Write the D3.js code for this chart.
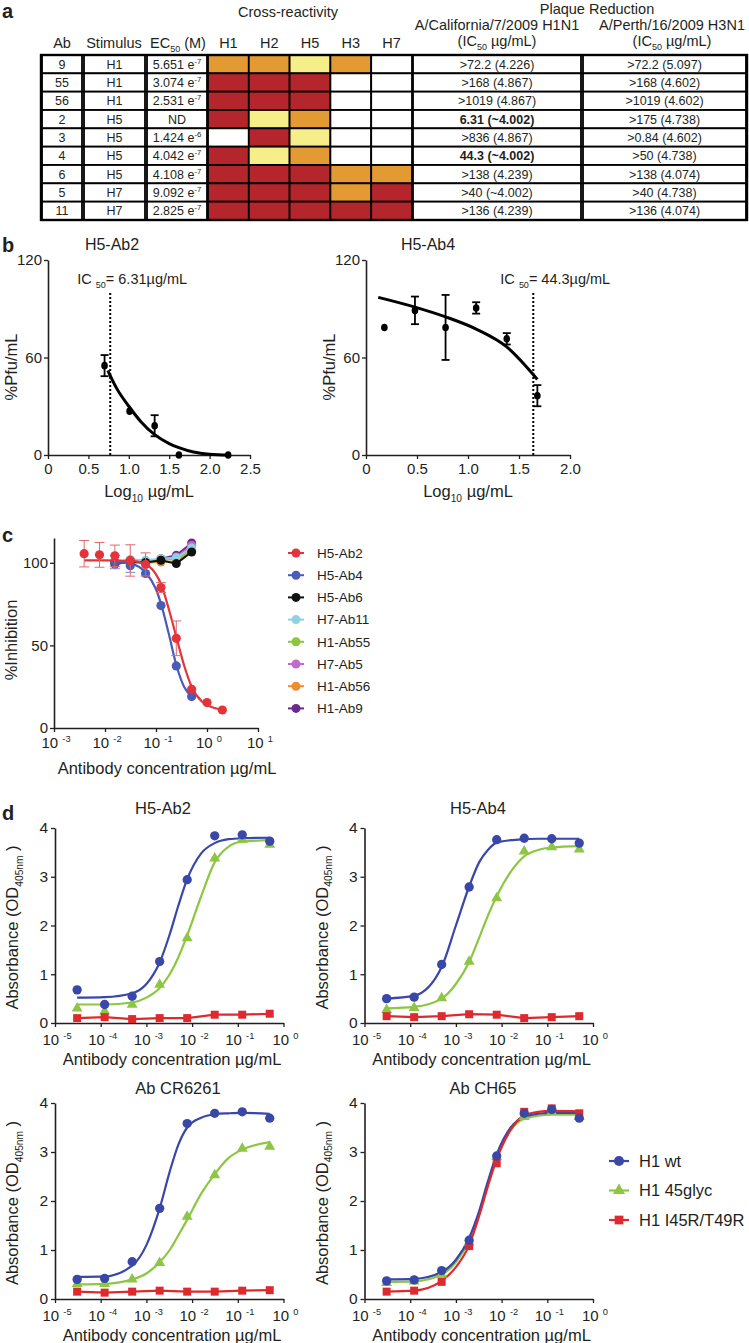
<!DOCTYPE html>
<html lang="en">
<head>
<meta charset="utf-8">
<title>Cross-reactivity and neutralization</title>
<script src="https://cdn.jsdelivr.net/npm/d3@7/dist/d3.min.js"></script>
<style>
  body { margin: 0; background: #fff; }
  svg text { font-family: "Liberation Sans", Arial, Helvetica, sans-serif; fill: #231f20; }
</style>
</head>
<body></body>
<script type="text/javascript">

//****************************************************************************//
// Data - panel a (table)

var abIds      = ["9", "55", "56", "2", "3", "4", "6", "5", "11"];
var stimulus   = ["H1", "H1", "H1", "H5", "H5", "H5", "H5", "H7", "H7"];
var ec50Value  = ["5.651", "3.074", "2.531", "ND", "1.424", "4.042", "4.108", "9.092", "2.825"];
var ec50Exp    = ["-7", "-7", "-7", "", "-6", "-7", "-7", "-7", "-7"];
var subtypes   = ["H1", "H2", "H5", "H3", "H7"];
// 0 none, 1 yellow, 2 orange, 3 red
var crossLevel = [
  [2, 2, 1, 2, 0],
  [3, 3, 3, 0, 0],
  [3, 3, 3, 0, 0],
  [3, 1, 2, 0, 0],
  [0, 3, 1, 0, 0],
  [3, 1, 2, 0, 0],
  [3, 3, 3, 2, 2],
  [3, 3, 3, 2, 3],
  [3, 3, 3, 3, 3]
];
var levelColors = ["#ffffff", "#f6ee88", "#e49a33", "#b5252c"];
var californiaIC50 = [">72.2 (4.226)", ">168 (4.867)", ">1019 (4.867)", "6.31 (~4.002)", ">836 (4.867)",
                      "44.3 (~4.002)", ">138 (4.239)", ">40 (~4.002)", ">136 (4.239)"];
var californiaBold = [false, false, false, true, false, true, false, false, false];
var perthIC50 = [">72.2 (5.097)", ">168 (4.602)", ">1019 (4.602)", ">175 (4.738)", ">0.84 (4.602)",
                 ">50 (4.738)", ">138 (4.074)", ">40 (4.738)", ">136 (4.074)"];

//****************************************************************************//
// Data - panel b (plaque reduction)

var bTicksLeft  = [0, 0.5, 1.0, 1.5, 2.0, 2.5];
var bTicksRight = [0, 0.5, 1.0, 1.5, 2.0];
var bTicksY     = [0, 60, 120];

var ab2Log    = [0.70, 1.01, 1.32, 1.62, 2.23];
var ab2Pfu    = [55, 27, 18, 0, 0];
var ab2Err    = [6.5, 0, 6.5, 0, 0];
var ab2FitLog = [0.74, 0.85, 1.0, 1.15, 1.32, 1.5, 1.62, 1.8, 2.0, 2.25];
var ab2FitPfu = [52, 41, 30, 20.5, 12.5, 7, 4.5, 1.8, 0.5, 0];
var ab2IC50Log = 0.77;

var ab4Log    = [0.18, 0.48, 0.78, 1.08, 1.38, 1.68];
var ab4Pfu    = [78.5, 89, 78.5, 90.5, 71.5, 36.5];
var ab4Err    = [0, 8.5, 20, 3.5, 3.5, 6.5];
var ab4FitLog = [0.12, 0.48, 0.78, 1.08, 1.38, 1.68];
var ab4FitPfu = [97, 91, 85, 77.5, 66.5, 46.5];
var ab4IC50Log = 1.64;

//****************************************************************************//
// Data - panel c (% inhibition)

var cTickExp = [-3, -2, -1, 0, 1];
var cTicksY  = [0, 50, 100];

var cNames  = ["H5-Ab2", "H5-Ab4", "H5-Ab6", "H7-Ab11", "H1-Ab55", "H7-Ab5", "H1-Ab56", "H1-Ab9"];
var cColors = ["#e2343a", "#4a5cb8", "#111111", "#8fd0e3", "#8cc641", "#c36ac8", "#f08c2e", "#6c2a8c"];

var ab2Conc = [0.0039, 0.0078, 0.0156, 0.03125, 0.0625, 0.125, 0.25, 0.5, 1, 2];
var ab2Inh  = [105.5, 104.8, 104.2, 101.4, 99, 85, 54.3, 23.4, 15.4, 10.9];
var ab2InhErr = [8, 7.5, 6.5, 9.5, 7, 3, 10.5, 0, 0, 0];
var ab2FitConc = [0.0039, 0.01, 0.0316, 0.063, 0.1, 0.126, 0.178, 0.251, 0.355, 0.5, 0.794, 1.26, 2];
var ab2FitInh  = [101.5, 101.5, 101.2, 99, 93, 87, 72, 55, 38, 25, 16, 12.5, 11];

var flatConc = [0.0156, 0.03125, 0.0625, 0.125, 0.25, 0.5];
var ab4Inh   = [100.4, 98.2, 93.5, 74.1, 37.6, 19];
var ab4InhErr = [4, 4, 0, 0, 0, 0];
var ab4FitConc = [0.0156, 0.0316, 0.063, 0.1, 0.126, 0.178, 0.251, 0.355, 0.5];
var ab4FitInh  = [100.5, 99.5, 94, 84, 75, 57, 38, 25, 19];

var ab6Inh  = [100, 100.5, 100.2, 101.5, 99.5, 106.5];
var ab11Inh = [100, 102, 101.5, 102.5, 103, 109];
var ab55Inh = [100, 101.5, 101, 102, 102.5, 108];
var ab5Inh  = [99.5, 101, 100.5, 102, 103.5, 110.5];
var ab56Inh = [100, 100.5, 100, 100.5, 101, 107];
var ab9Inh  = [99, 101, 100.5, 102.5, 104.5, 112];

//****************************************************************************//
// Data - panel d (ELISA)

var dTickExp = [-5, -4, -3, -2, -1, 0];
var dTicksY  = [0, 1, 2, 3, 4];
var dNames   = ["H1 wt", "H1 45glyc", "H1 I45R/T49R"];
var dColors  = ["#3847a8", "#8dc642", "#dd2a2e"];

var dConc    = [3.05e-5, 1.22e-4, 4.88e-4, 1.95e-3, 7.81e-3, 3.125e-2, 0.125, 0.5];
var dFitConc = [3.05e-5, 1.22e-4, 4.88e-4, 1e-3, 1.95e-3, 3.24e-3, 5.01e-3, 7.81e-3, 1.58e-2, 3.125e-2, 6.31e-2, 0.125, 0.5];

var h5ab2Wt      = [0.68, 0.38, 0.55, 1.26, 2.94, 3.84, 3.86, 3.73];
var h5ab2Glyc    = [0.30, 0.24, 0.38, 0.79, 1.74, 3.38, 3.76, 3.66];
var h5ab2Mut     = [0.10, 0.12, 0.08, 0.10, 0.10, 0.17, 0.17, 0.19];
var h5ab2WtFit   = [0.52, 0.53, 0.61, 0.80, 1.24, 1.82, 2.41, 2.95, 3.48, 3.69, 3.77, 3.79, 3.80];
var h5ab2GlycFit = [0.38, 0.38, 0.42, 0.52, 0.72, 1.0, 1.35, 1.8, 2.6, 3.3, 3.62, 3.72, 3.75];

var h5ab4Wt      = [0.50, 0.53, 1.20, 2.79, 3.76, 3.79, 3.78, 3.69];
var h5ab4Glyc    = [0.27, 0.31, 0.51, 1.26, 2.56, 3.52, 3.61, 3.56];
var h5ab4Mut     = [0.14, 0.12, 0.14, 0.18, 0.17, 0.10, 0.12, 0.14];
var h5ab4WtFit   = [0.50, 0.56, 1.15, 2.0, 2.8, 3.3, 3.55, 3.7, 3.75, 3.77, 3.78, 3.78, 3.78];
var h5ab4GlycFit = [0.30, 0.33, 0.50, 0.80, 1.25, 1.75, 2.2, 2.6, 3.1, 3.42, 3.55, 3.6, 3.63];

var cr6261Wt      = [0.40, 0.42, 0.76, 1.85, 3.58, 3.79, 3.82, 3.69];
var cr6261Glyc    = [0.31, 0.31, 0.40, 0.74, 1.68, 2.53, 3.07, 3.11];
var cr6261Mut     = [0.15, 0.13, 0.15, 0.17, 0.15, 0.15, 0.17, 0.18];
var cr6261WtFit   = [0.45, 0.46, 0.68, 1.1, 1.85, 2.6, 3.15, 3.5, 3.7, 3.77, 3.79, 3.8, 3.78];
var cr6261GlycFit = [0.30, 0.31, 0.40, 0.52, 0.75, 1.0, 1.3, 1.62, 2.15, 2.55, 2.88, 3.05, 3.2];

var ch65Wt      = [0.37, 0.39, 0.58, 1.20, 2.92, 3.79, 3.87, 3.69];
var ch65Glyc    = [0.33, 0.36, 0.50, 1.15, 2.90, 3.72, 3.82, 3.72];
var ch65Mut     = [0.15, 0.17, 0.35, 1.08, 2.77, 3.82, 3.89, 3.79];
var ch65WtFit   = [0.40, 0.41, 0.55, 0.80, 1.25, 1.8, 2.4, 2.95, 3.5, 3.72, 3.78, 3.8, 3.8];
var ch65GlycFit = [0.35, 0.36, 0.50, 0.75, 1.2, 1.75, 2.35, 2.9, 3.45, 3.68, 3.74, 3.76, 3.76];
var ch65MutFit  = [0.15, 0.17, 0.37, 0.65, 1.1, 1.7, 2.3, 2.85, 3.45, 3.75, 3.82, 3.84, 3.83];

//****************************************************************************//
// Canvas

var width = 749,
    height = 1343;
var ink = "#231f20";

var canvas = d3.select("body")
            .append("svg")
            .attr("width", width)
            .attr("height", height);

canvas.append("rect")
        .attr("width", width)
        .attr("height", height)
        .attr("fill", "white");

// text with sub / superscript pieces: parts = [[string, "sub"|"sup"|null], ...]
function richText(g, x, y, parts, size, anchor, weight) {
    var t = g.append("text")
            .attr("x", x)
            .attr("y", y)
            .attr("font-size", size)
            .attr("font-weight", weight || "normal")
            .attr("text-anchor", anchor || "start");
    var shift = 0;
    parts.forEach(function(p) {
        var target = p[1] === "sub" ? size * 0.3 : (p[1] === "sup" ? -size * 0.4 : 0);
        t.append("tspan")
            .attr("dy", target - shift)
            .attr("font-size", p[1] ? size * 0.62 : size)
            .text(p[0]);
        shift = target;
    });
    return t;
}

function panelLetter(letter, x, y) {
    canvas.append("text")
        .attr("x", x)
        .attr("y", y)
        .attr("font-size", 20)
        .attr("font-weight", "bold")
        .attr("fill", "#000")
        .text(letter);
}

function styleAxis(g, size) {
    g.attr("font-family", null).attr("font-size", null);
    g.select(".domain").attr("stroke", ink).attr("stroke-width", 1.6);
    g.selectAll(".tick line").attr("stroke", ink).attr("stroke-width", 1.3);
    g.selectAll(".tick text").attr("font-size", size).style("fill", ink);
}

function yLabel(x, y, parts, size) {
    var g = canvas.append("g").attr("transform", "translate(" + x + "," + y + ") rotate(-90)");
    richText(g, 0, 0, parts, size, "middle");
}

function logTickLabels(g, scale, exps, y, size) {
    exps.forEach(function(e) {
        richText(g, scale(Math.pow(10, e)) + 2, y, [["10 "], [String(e), "sup"]], size, "middle");
    });
}

//****************************************************************************//
// Panel a - table

panelLetter("a", 2, 18);

var tableTop = 55, tableBottom = 220;
var rowY  = d3.scaleBand().domain(abIds).range([tableTop, tableBottom]);
var heatX = d3.scaleBand().domain(subtypes).range([208, 412]);
var rowH  = rowY.bandwidth();

var tableG = canvas.append("g");

var textCols = [
    { x0: 41,  x1: 83,  values: abIds },
    { x0: 83,  x1: 146, values: stimulus },
    { x0: 146, x1: 208, values: ec50Value, exp: ec50Exp },
    { x0: 412, x1: 582, values: californiaIC50, bold: californiaBold },
    { x0: 582, x1: 747, values: perthIC50 }
];

textCols.forEach(function(col) {
    col.values.forEach(function(v, i) {
        var y = rowY(abIds[i]);
        tableG.append("rect")
            .attr("x", col.x0 + 1)
            .attr("y", y)
            .attr("width", col.x1 - col.x0 - 2)
            .attr("height", rowH)
            .attr("fill", "white")
            .attr("stroke", "#000")
            .attr("stroke-width", 1.8);
        var cx = (col.x0 + col.x1) / 2, ty = y + rowH / 2 + 4.5;
        if (col.exp && col.exp[i] !== "") {
            richText(tableG, cx, ty, [[v + " e"], [col.exp[i], "sup"]], 12.5, "middle");
        } else {
            tableG.append("text")
                .attr("x", cx)
                .attr("y", ty)
                .attr("font-size", 12.5)
                .attr("font-weight", col.bold && col.bold[i] ? "bold" : "normal")
                .attr("text-anchor", "middle")
                .text(v);
        }
    });
});

crossLevel.forEach(function(row, i) {
    row.forEach(function(level, j) {
        tableG.append("rect")
            .attr("x", heatX(subtypes[j]))
            .attr("y", rowY(abIds[i]))
            .attr("width", heatX.bandwidth())
            .attr("height", rowH)
            .attr("fill", levelColors[level])
            .attr("stroke", "#000")
            .attr("stroke-width", 1.8);
    });
});

tableG.append("rect")
    .attr("x", 41).attr("y", tableTop)
    .attr("width", 706).attr("height", tableBottom - tableTop)
    .attr("fill", "none").attr("stroke", "#000").attr("stroke-width", 2.4);

// headers
var hdrY = 48;
tableG.append("text").attr("x", 62).attr("y", hdrY).attr("font-size", 14.5).attr("text-anchor", "middle").text("Ab");
tableG.append("text").attr("x", 114).attr("y", hdrY).attr("font-size", 14.5).attr("text-anchor", "middle").text("Stimulus");
richText(tableG, 178, hdrY, [["EC"], ["50", "sub"], [" (M)"]], 14.5, "middle");
subtypes.forEach(function(s) {
    tableG.append("text")
        .attr("x", heatX(s) + heatX.bandwidth() / 2)
        .attr("y", hdrY)
        .attr("font-size", 14.5)
        .attr("text-anchor", "middle")
        .text(s);
});
tableG.append("text").attr("x", 288).attr("y", 17).attr("font-size", 14.5).attr("text-anchor", "middle").text("Cross-reactivity");
tableG.append("text").attr("x", 597).attr("y", 14).attr("font-size", 14.5).attr("text-anchor", "middle").text("Plaque Reduction");
tableG.append("text").attr("x", 497).attr("y", 30).attr("font-size", 14.5).attr("text-anchor", "middle").text("A/California/7/2009 H1N1");
tableG.append("text").attr("x", 672).attr("y", 30).attr("font-size", 14.5).attr("text-anchor", "middle").text("A/Perth/16/2009 H3N1");
richText(tableG, 497, 46, [["(IC"], ["50", "sub"], [" \u00b5g/mL)"]], 14.5, "middle");
richText(tableG, 672, 46, [["(IC"], ["50", "sub"], [" \u00b5g/mL)"]], 14.5, "middle");

//****************************************************************************//
// Panel b - plaque reduction curves

panelLetter("b", 2, 252);

var bY = d3.scaleLinear().domain([0, 120]).range([455, 260]);

function pfuPanel(x, ticks, logs, pfu, err, fitLog, fitPfu, ic50, ic50Text, title, titleX, labelX) {
    var g = canvas.append("g");
    var x0 = x.range()[0];

    g.append("g")
        .attr("transform", "translate(0," + bY(0) + ")")
        .call(d3.axisBottom(x).tickValues(ticks).tickSize(4).tickSizeOuter(0).tickPadding(4)
                .tickFormat(function(d) { return d === 0 ? "0" : d3.format(".1f")(d); }))
        .call(styleAxis, 15);

    g.append("g")
        .attr("transform", "translate(" + x0 + ",0)")
        .call(d3.axisLeft(bY).tickValues(bTicksY).tickSize(4).tickSizeOuter(0).tickPadding(2))
        .call(styleAxis, 15);

    // dotted IC50 marker
    g.append("line")
        .attr("x1", x(ic50)).attr("x2", x(ic50))
        .attr("y1", bY(0)).attr("y2", bY(100))
        .attr("stroke", "#000").attr("stroke-width", 2).attr("stroke-dasharray", "2,2");

    var line = d3.line()
        .x(function(d) { return x(d[0]); })
        .y(function(d) { return bY(d[1]); })
        .curve(d3.curveMonotoneX);
    g.append("path")
        .datum(d3.zip(fitLog, fitPfu))
        .attr("d", line)
        .attr("fill", "none")
        .attr("stroke", "#000")
        .attr("stroke-width", 3);

    logs.forEach(function(l, i) {
        if (err[i] > 0) {
            var top = bY(pfu[i] + err[i]), bot = bY(pfu[i] - err[i]);
            g.append("line").attr("x1", x(l)).attr("x2", x(l)).attr("y1", top).attr("y2", bot)
                .attr("stroke", "#000").attr("stroke-width", 1.8);
            [top, bot].forEach(function(yy) {
                g.append("line").attr("x1", x(l) - 4).attr("x2", x(l) + 4).attr("y1", yy).attr("y2", yy)
                    .attr("stroke", "#000").attr("stroke-width", 1.8);
            });
        }
        g.append("ellipse")
            .attr("cx", x(l)).attr("cy", bY(pfu[i]))
            .attr("rx", 3.3).attr("ry", 3.8)
            .attr("fill", "#000");
    });

    richText(g, x(ic50) + 22, 284, [["IC "], ["50", "sub"], ["= " + ic50Text + "\u00b5g/mL"]], 14.5, "middle");
    g.append("text").attr("x", titleX).attr("y", 250).attr("font-size", 16).attr("text-anchor", "middle").text(title);
    richText(g, (x.range()[0] + x.range()[1]) / 2, 497, [["Log"], ["10", "sub"], [" \u00b5g/mL"]], 16.5, "middle");
    yLabel(labelX, 367, [["%Pfu/mL"]], 16.5);
}

var bXLeft  = d3.scaleLinear().domain([0, 2.5]).range([48, 250]);
var bXRight = d3.scaleLinear().domain([0, 2.0]).range([366, 570]);

pfuPanel(bXLeft, bTicksLeft, ab2Log, ab2Pfu, ab2Err, ab2FitLog, ab2FitPfu, ab2IC50Log, "6.31", "H5-Ab2", 112, 17);
pfuPanel(bXRight, bTicksRight, ab4Log, ab4Pfu, ab4Err, ab4FitLog, ab4FitPfu, ab4IC50Log, "44.3", "H5-Ab4", 428, 335);

//****************************************************************************//
// Panel c - % inhibition

panelLetter("c", 2, 542);

var cX = d3.scaleLog().domain([1e-3, 10]).range([54, 258]);
var cY = d3.scaleLinear().domain([0, 115]).range([728, 538]);
var cG = canvas.append("g");

cG.append("g")
    .attr("transform", "translate(0," + cY(0) + ")")
    .call(d3.axisBottom(cX).tickValues(cTickExp.map(function(e) { return Math.pow(10, e); }))
            .tickSize(4).tickSizeOuter(0).tickFormat(""))
    .call(styleAxis, 14);
logTickLabels(cG, cX, cTickExp, 748, 15);

cG.append("g")
    .attr("transform", "translate(" + cX(1e-3) + ",0)")
    .call(d3.axisLeft(cY).tickValues(cTicksY).tickSize(4).tickSizeOuter(0).tickPadding(2))
    .call(styleAxis, 15);

var cLine = d3.line()
    .x(function(d) { return cX(d[0]); })
    .y(function(d) { return cY(d[1]); });

// flat series (drawn back to front)
var flatSeries = [
    { vals: ab9Inh,  color: cColors[7] },
    { vals: ab56Inh, color: cColors[6] },
    { vals: ab5Inh,  color: cColors[5] },
    { vals: ab55Inh, color: cColors[4] },
    { vals: ab11Inh, color: cColors[3] },
    { vals: ab6Inh,  color: cColors[2] }
];
flatSeries.forEach(function(s) {
    cG.append("path")
        .datum(d3.zip(flatConc, s.vals))
        .attr("d", cLine)
        .attr("fill", "none").attr("stroke", s.color).attr("stroke-width", 2);
    flatConc.forEach(function(c, i) {
        cG.append("circle").attr("cx", cX(c)).attr("cy", cY(s.vals[i])).attr("r", 4.5).attr("fill", s.color);
    });
});

function inhibitionSeries(conc, vals, err, fitConc, fit, color, errColor) {
    cG.append("path")
        .datum(d3.zip(fitConc, fit))
        .attr("d", cLine.curve(d3.curveMonotoneX))
        .attr("fill", "none").attr("stroke", color).attr("stroke-width", 2.2);
    cLine.curve(d3.curveLinear);
    conc.forEach(function(c, i) {
        if (err[i] > 0) {
            var top = cY(vals[i] + err[i]), bot = cY(vals[i] - err[i]), xx = cX(c);
            cG.append("line").attr("x1", xx).attr("x2", xx).attr("y1", top).attr("y2", bot)
                .attr("stroke", errColor).attr("stroke-width", 1);
            [top, bot].forEach(function(yy) {
                cG.append("line").attr("x1", xx - 5).attr("x2", xx + 5).attr("y1", yy).attr("y2", yy)
                    .attr("stroke", errColor).attr("stroke-width", 1);
            });
        }
        cG.append("circle").attr("cx", cX(c)).attr("cy", cY(vals[i])).attr("r", 4.6).attr("fill", color);
    });
}

inhibitionSeries(flatConc, ab4Inh, ab4InhErr, ab4FitConc, ab4FitInh, cColors[1], "#7d8ad0");
inhibitionSeries(ab2Conc, ab2Inh, ab2InhErr, ab2FitConc, ab2FitInh, cColors[0], "#e2676b");

richText(cG, 167, 774, [["Antibody concentration \u00b5g/mL"]], 16.5, "middle");
yLabel(17, 640, [["%Inhibition"]], 16.5);

// legend
cNames.forEach(function(name, i) {
    var ly = 553 + i * 22.2;
    cG.append("line").attr("x1", 288).attr("x2", 304).attr("y1", ly).attr("y2", ly)
        .attr("stroke", cColors[i]).attr("stroke-width", 2);
    cG.append("circle").attr("cx", 296).attr("cy", ly).attr("r", 4.5).attr("fill", cColors[i]);
    cG.append("text").attr("x", 317).attr("y", ly + 4.7).attr("font-size", 13.5).text(name);
});

//****************************************************************************//
// Panel d - ELISA binding

panelLetter("d", 2, 820);

var dSymbols = [d3.symbolCircle, d3.symbolTriangle, d3.symbolSquare];
var dSymbolSize = [68, 52, 64];

function elisaPanel(x0, yBottom, yTop, title, titleX, titleY, series) {
    var x = d3.scaleLog().domain([1e-5, 1]).range([x0, x0 + 228.5]);
    var y = d3.scaleLinear().domain([0, 4]).range([yBottom, yTop]);
    var g = canvas.append("g");

    g.append("g")
        .attr("transform", "translate(0," + yBottom + ")")
        .call(d3.axisBottom(x).tickValues(dTickExp.map(function(e) { return Math.pow(10, e); }))
                .tickSize(4).tickSizeOuter(0).tickFormat(""))
        .call(styleAxis, 14);
    logTickLabels(g, x, dTickExp, yBottom + 22, 15);

    g.append("g")
        .attr("transform", "translate(" + x0 + ",0)")
        .call(d3.axisLeft(y).tickValues(dTicksY).tickSize(4).tickSizeOuter(0).tickPadding(3)
                .tickFormat(d3.format("d")))
        .call(styleAxis, 15.5);

    var line = d3.line()
        .x(function(d) { return x(d[0]); })
        .y(function(d) { return y(d[1]); });

    // lines first: glyc, wt, mutant
    [1, 0, 2].forEach(function(k) {
        var s = series[k];
        var pts = s.fit ? d3.zip(dFitConc, s.fit) : d3.zip(dConc, s.vals);
        g.append("path")
            .datum(pts)
            .attr("d", line.curve(s.fit ? d3.curveMonotoneX : d3.curveLinear))
            .attr("fill", "none").attr("stroke", dColors[k]).attr("stroke-width", 2.2);
    });
    [1, 2, 0].forEach(function(k) {
        var s = series[k];
        dConc.forEach(function(c, i) {
            g.append("path")
                .attr("d", d3.symbol().type(dSymbols[k]).size(dSymbolSize[k])())
                .attr("transform", "translate(" + x(c) + "," + y(s.vals[i]) + ")")
                .attr("fill", dColors[k]);
        });
    });

    g.append("text").attr("x", titleX).attr("y", titleY).attr("font-size", 16.5)
        .attr("text-anchor", "middle").text(title);
    richText(g, x0 + 117, yBottom + 42, [["Antibody concentration \u00b5g/mL"]], 16.5, "middle");
    yLabel(x0 - 37, (yTop + yBottom) / 2 + 2, [["Absorbance (OD"], ["405nm", "sub"], [" )"]], 16.5);
}

elisaPanel(55, 1023, 828, "H5-Ab2", 163, 814, [
    { vals: h5ab2Wt, fit: h5ab2WtFit },
    { vals: h5ab2Glyc, fit: h5ab2GlycFit },
    { vals: h5ab2Mut }
]);
elisaPanel(364.5, 1023, 828, "H5-Ab4", 478, 814, [
    { vals: h5ab4Wt, fit: h5ab4WtFit },
    { vals: h5ab4Glyc, fit: h5ab4GlycFit },
    { vals: h5ab4Mut }
]);
elisaPanel(55, 1299, 1103, "Ab CR6261", 178, 1094, [
    { vals: cr6261Wt, fit: cr6261WtFit },
    { vals: cr6261Glyc, fit: cr6261GlycFit },
    { vals: cr6261Mut }
]);
elisaPanel(364.5, 1299, 1103, "Ab CH65", 483, 1094, [
    { vals: ch65Wt, fit: ch65WtFit },
    { vals: ch65Glyc, fit: ch65GlycFit },
    { vals: ch65Mut, fit: ch65MutFit }
]);

// legend
dNames.forEach(function(name, i) {
    var ly = 1161 + i * 29.5;
    canvas.append("line").attr("x1", 609).attr("x2", 629).attr("y1", ly).attr("y2", ly)
        .attr("stroke", dColors[i]).attr("stroke-width", 2.2);
    canvas.append("path")
        .attr("d", d3.symbol().type(dSymbols[i]).size(dSymbolSize[i] + 12)())
        .attr("transform", "translate(619," + ly + ")")
        .attr("fill", dColors[i]);
    canvas.append("text").attr("x", 639).attr("y", ly + 5.8).attr("font-size", 16.5).text(name);
});

</script>
</html>
